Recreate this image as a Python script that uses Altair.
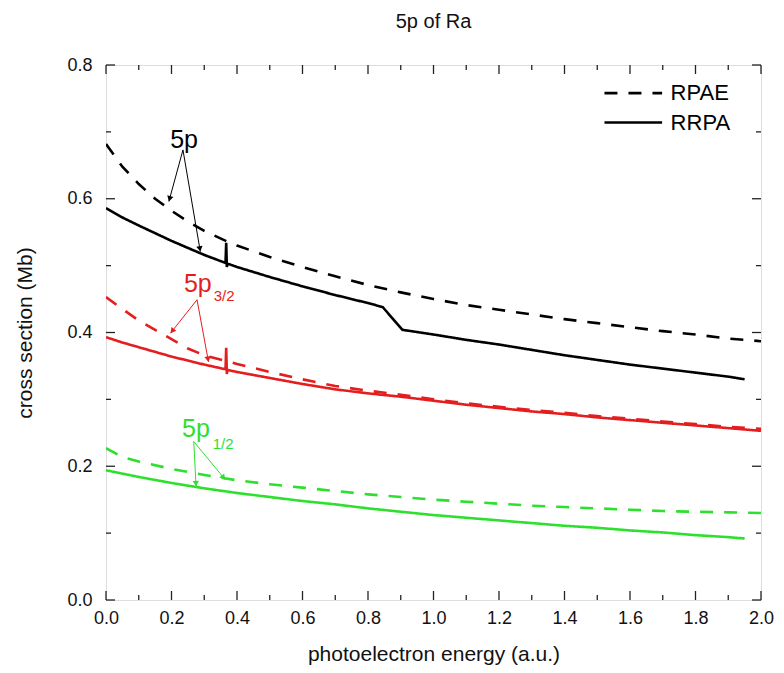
import math
import altair as alt
import pandas as pd

# ---------------- data ----------------
x_5p_rpae = [0, 0.05, 0.1, 0.15, 0.2, 0.25, 0.3, 0.37, 0.4, 0.5, 0.6, 0.7, 0.8, 0.9, 1.0,
             1.1, 1.2, 1.3, 1.4, 1.5, 1.6, 1.7, 1.8, 1.9, 2.0]
y_5p_rpae = [0.682, 0.648, 0.622, 0.600, 0.582, 0.566, 0.552, 0.536, 0.530, 0.513, 0.498,
             0.484, 0.471, 0.460, 0.450, 0.441, 0.434, 0.427, 0.420, 0.414, 0.408, 0.402,
             0.397, 0.391, 0.387]

x_5p_rrpa = [0, 0.05, 0.1, 0.2, 0.3, 0.365, 0.367, 0.369, 0.371, 0.4, 0.5, 0.6, 0.7, 0.8,
             0.845, 0.905, 1.0, 1.1, 1.2, 1.3, 1.4, 1.5, 1.6, 1.7, 1.8, 1.9, 1.95]
y_5p_rrpa = [0.586, 0.572, 0.560, 0.537, 0.516, 0.504, 0.534, 0.498, 0.503, 0.498, 0.483,
             0.469, 0.456, 0.444, 0.438, 0.404, 0.397, 0.389, 0.382, 0.374, 0.366, 0.359,
             0.352, 0.346, 0.340, 0.334, 0.330]

x_p32_rpae = [0, 0.05, 0.1, 0.15, 0.2, 0.25, 0.3, 0.4, 0.5, 0.6, 0.7, 0.8, 0.9, 1.0,
              1.1, 1.2, 1.3, 1.4, 1.5, 1.6, 1.7, 1.8, 1.9, 2.0]
y_p32_rpae = [0.453, 0.435, 0.418, 0.404, 0.390, 0.376, 0.366, 0.353, 0.341, 0.330, 0.320,
              0.313, 0.307, 0.300, 0.294, 0.289, 0.284, 0.280, 0.275, 0.271, 0.267, 0.263,
              0.259, 0.256]

x_p32_rrpa = [0, 0.05, 0.1, 0.2, 0.3, 0.365, 0.367, 0.369, 0.371, 0.4, 0.5, 0.6, 0.7, 0.8,
              0.9, 1.0, 1.1, 1.2, 1.3, 1.4, 1.5, 1.6, 1.7, 1.8, 1.9, 2.0]
y_p32_rrpa = [0.393, 0.385, 0.378, 0.364, 0.352, 0.345, 0.377, 0.338, 0.344, 0.341, 0.332,
              0.323, 0.315, 0.309, 0.304, 0.298, 0.292, 0.287, 0.282, 0.278, 0.273, 0.269,
              0.265, 0.261, 0.257, 0.253]

x_p12_rpae = [0, 0.05, 0.1, 0.2, 0.3, 0.4, 0.5, 0.6, 0.7, 0.8, 0.9, 1.0, 1.1, 1.2, 1.3,
              1.4, 1.5, 1.6, 1.7, 1.8, 1.9, 2.0]
y_p12_rpae = [0.227, 0.214, 0.207, 0.196, 0.187, 0.179, 0.173, 0.168, 0.163, 0.158, 0.154,
              0.150, 0.147, 0.144, 0.141, 0.139, 0.137, 0.135, 0.133, 0.132, 0.131, 0.130]

x_p12_rrpa = [0, 0.1, 0.2, 0.3, 0.4, 0.5, 0.6, 0.7, 0.8, 0.9, 1.0, 1.1, 1.2, 1.3, 1.4,
              1.5, 1.6, 1.7, 1.8, 1.9, 1.95]
y_p12_rrpa = [0.194, 0.184, 0.175, 0.167, 0.160, 0.154, 0.148, 0.143, 0.137, 0.132, 0.127,
              0.123, 0.119, 0.115, 0.111, 0.108, 0.104, 0.101, 0.097, 0.094, 0.092]

shells = ["5p", "5p3/2", "5p1/2"]
shell_colors = ["#000000", "#e41e1e", "#2ee02e"]
methods = ["RPAE", "RRPA"]

# annotation labels
label_main = ["5p", "5p", "5p"]
label_sub = ["", "3/2", "1/2"]
label_x = [0.196, 0.238, 0.232]
label_y = [0.676, 0.4606, 0.2433]
sub_x = [0.0, 0.329, 0.326]
sub_y = [0.0, 0.4476, 0.2258]

# arrows: origin and head per shell
arrow_shell = ["5p", "5p", "5p3/2", "5p3/2", "5p1/2", "5p1/2"]
arrow_x0 = [0.235, 0.235, 0.278, 0.278, 0.268, 0.268]
arrow_y0 = [0.673, 0.673, 0.449, 0.449, 0.237, 0.237]
arrow_x1 = [0.192, 0.288, 0.197, 0.313, 0.275, 0.364]
arrow_y1 = [0.596, 0.521, 0.399, 0.356, 0.170, 0.180]

x_major = [0.0, 0.2, 0.4, 0.6, 0.8, 1.0, 1.2, 1.4, 1.6, 1.8, 2.0]
x_minor = [0.1, 0.3, 0.5, 0.7, 0.9, 1.1, 1.3, 1.5, 1.7, 1.9]
y_major = [0.0, 0.2, 0.4, 0.6, 0.8]
y_minor = [0.1, 0.3, 0.5, 0.7]

# ---------------- layout ----------------
W, H = 655, 535
XD, YD = [0, 2], [0, 0.8]
FONT = "Liberation Sans"
color_of = dict(zip(shells, shell_colors))

rows = []
for shell, method, xs_, ys_ in [
    ("5p", "RPAE", x_5p_rpae, y_5p_rpae),
    ("5p", "RRPA", x_5p_rrpa, y_5p_rrpa),
    ("5p3/2", "RPAE", x_p32_rpae, y_p32_rpae),
    ("5p3/2", "RRPA", x_p32_rrpa, y_p32_rrpa),
    ("5p1/2", "RPAE", x_p12_rpae, y_p12_rpae),
    ("5p1/2", "RRPA", x_p12_rrpa, y_p12_rrpa),
]:
    for i, (xv, yv) in enumerate(zip(xs_, ys_)):
        rows.append({"x": xv, "y": yv, "shell": shell, "method": method, "i": i})
df = pd.DataFrame(rows)

xs = alt.Scale(domain=XD, nice=False, zero=False)
ys = alt.Scale(domain=YD, nice=False, zero=False)

lines = alt.Chart(df).mark_line(strokeWidth=2.6, clip=True).encode(
    x=alt.X("x:Q", scale=xs,
            axis=alt.Axis(title="photoelectron energy (a.u.)", values=x_major, format=".1f",
                          ticks=False, domain=False, grid=False, labelFontSize=18,
                          labelFlush=False, labelOverlap=False,
                          labelFont=FONT, labelColor="#111", labelPadding=9,
                          titleFont=FONT, titleFontSize=21, titleFontWeight="normal",
                          titleColor="#111", titlePadding=16)),
    y=alt.Y("y:Q", scale=ys,
            axis=alt.Axis(title="cross section (Mb)", values=y_major, format=".1f",
                          ticks=False, domain=False, grid=False, labelFontSize=18,
                          labelFlush=False, labelOverlap=False,
                          labelFont=FONT, labelColor="#111", labelPadding=14,
                          titleFont=FONT, titleFontSize=21, titleFontWeight="normal",
                          titleColor="#111", titlePadding=31)),
    color=alt.Color("shell:N", scale=alt.Scale(domain=shells, range=shell_colors), legend=None),
    strokeDash=alt.StrokeDash("method:N", scale=alt.Scale(domain=methods, range=[[13, 11], [1, 0]]),
                              legend=None),
    order="i:Q",
)

# arrows
adf = pd.DataFrame({"shell": arrow_shell, "x0": arrow_x0, "y0": arrow_y0,
                    "x1": arrow_x1, "y1": arrow_y1})
adf["col"] = [color_of[s] for s in adf["shell"]]
sx = W / (XD[1] - XD[0])
sy = H / (YD[1] - YD[0])
HEAD_SIZE = 40
half_h = math.sqrt(3) / 2 * math.sqrt(HEAD_SIZE) / 2  # half height of triangle-up in px
angs, cx, cy = [], [], []
for x0, y0, x1, y1 in zip(adf.x0, adf.y0, adf.x1, adf.y1):
    dx = (x1 - x0) * sx          # px, right positive
    dy = -(y1 - y0) * sy         # px, down positive
    L = math.hypot(dx, dy)
    ux, uy = dx / L, dy / L
    angs.append(math.degrees(math.atan2(dx, -dy)) % 360)
    cx.append(x1 - ux * half_h / sx)
    cy.append(y1 + uy * half_h / sy)
adf["ang"] = angs
adf["cx"] = cx
adf["cy"] = cy

arrow_lines = alt.Chart(adf).mark_rule(strokeWidth=1).encode(
    x=alt.X("x0:Q", scale=xs), y=alt.Y("y0:Q", scale=ys),
    x2="x1:Q", y2="y1:Q", color=alt.Color("col:N", scale=None))
arrow_heads = alt.Chart(adf).mark_point(
    shape="triangle-up", filled=True, size=HEAD_SIZE, opacity=1
).encode(
    x=alt.X("cx:Q", scale=xs), y=alt.Y("cy:Q", scale=ys),
    angle=alt.Angle("ang:Q", scale=None), color=alt.Color("col:N", scale=None))

# labels
ldf = pd.DataFrame({"t": label_main, "x": label_x, "y": label_y, "shell": shells})
ldf["col"] = [color_of[s] for s in ldf["shell"]]
labels = alt.Chart(ldf).mark_text(font=FONT, fontSize=25, align="left", baseline="alphabetic").encode(
    x=alt.X("x:Q", scale=xs), y=alt.Y("y:Q", scale=ys), text="t:N",
    color=alt.Color("col:N", scale=None))
sdf = pd.DataFrame({"t": label_sub, "x": sub_x, "y": sub_y, "shell": shells})
sdf = sdf[sdf["t"] != ""].copy()
sdf["col"] = [color_of[s] for s in sdf["shell"]]
subs = alt.Chart(sdf).mark_text(font=FONT, fontSize=15, align="left", baseline="alphabetic").encode(
    x=alt.X("x:Q", scale=xs), y=alt.Y("y:Q", scale=ys), text="t:N",
    color=alt.Color("col:N", scale=None))

# legend (manual)
leg_x0, leg_x1, leg_tx = 1.522, 1.698, 1.724
leg_y = [0.758, 0.714]
legdf = pd.DataFrame({"method": methods, "x0": [leg_x0] * 2, "x1": [leg_x1] * 2,
                      "tx": [leg_tx] * 2, "y": leg_y})
leg_lines = alt.Chart(legdf).mark_rule(strokeWidth=2.6, color="#000").encode(
    x=alt.X("x0:Q", scale=xs), x2="x1:Q", y=alt.Y("y:Q", scale=ys),
    strokeDash=alt.StrokeDash("method:N", scale=alt.Scale(domain=methods, range=[[13, 9], [1, 0]]),
                              legend=None))
leg_text = alt.Chart(legdf).mark_text(font=FONT, fontSize=22, align="left", baseline="middle",
                                      color="#000").encode(
    x=alt.X("tx:Q", scale=xs), y=alt.Y("y:Q", scale=ys), text="method:N")

# inward ticks
def tick_layer(vals, length, side):
    d = pd.DataFrame({"v": vals})
    base = alt.Chart(d).mark_rule(strokeWidth=1.3, color="#222")
    if side == "bottom":
        return base.encode(x=alt.X("v:Q", scale=xs), y=alt.value(H), y2=alt.value(H - length))
    if side == "top":
        return base.encode(x=alt.X("v:Q", scale=xs), y=alt.value(0), y2=alt.value(length))
    if side == "left":
        return base.encode(y=alt.Y("v:Q", scale=ys), x=alt.value(0), x2=alt.value(length))
    return base.encode(y=alt.Y("v:Q", scale=ys), x=alt.value(W), x2=alt.value(W - length))

ticks = []
for side in ["bottom", "top"]:
    ticks.append(tick_layer(x_major, 9, side))
    ticks.append(tick_layer(x_minor, 5, side))
for side in ["left", "right"]:
    ticks.append(tick_layer(y_major, 9, side))
    ticks.append(tick_layer(y_minor, 5, side))

chart = alt.layer(
    lines, arrow_lines, arrow_heads, labels, subs, leg_lines, leg_text, *ticks
).properties(
    width=W, height=H,
    title=alt.TitleParams("5p of Ra", font=FONT, fontSize=20, fontWeight="normal",
                          color="#111", offset=24, anchor="middle"),
    padding={"left": 98, "top": 57, "right": 15, "bottom": 65},
    autosize=alt.AutoSizeParams(type="none"),
).configure_view(stroke="#222", strokeWidth=1.6).configure(background="white")

chart.save("out.html", embed_options={"renderer": "svg", "actions": False})
